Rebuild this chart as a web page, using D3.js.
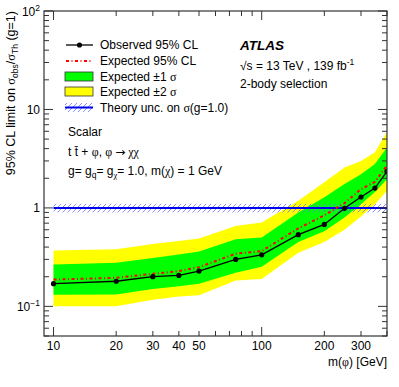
<!DOCTYPE html>
<meta charset="utf-8">
<script src="https://d3js.org/d3.v7.min.js"></script>
<style>
  body { margin: 0; padding: 0; background: white; }
  svg text { font-family: "Liberation Sans", Arial, sans-serif; fill: #000; }
  svg tspan.gr { font-family: "Liberation Serif", "DejaVu Serif", serif; }
  svg tspan.ar { font-family: "DejaVu Sans", sans-serif; }
</style>
<body>
<svg id="chart" width="399" height="387"></svg>
<script>
// masses [GeV] and limits
var mass     = [10, 20, 30, 40, 50, 75, 100, 150, 200, 250, 300, 350, 400];
var observed = [0.17, 0.18, 0.2, 0.206, 0.228, 0.30, 0.334, 0.535, 0.68, 0.99, 1.29, 1.59, 2.35];
var expected = [0.187, 0.195, 0.214, 0.228, 0.25, 0.343, 0.364, 0.62, 0.84, 1.12, 1.55, 1.84, 2.7];
var exp1Up   = [0.266, 0.277, 0.31, 0.337, 0.36, 0.48, 0.50, 0.9, 1.28, 1.75, 2.2, 2.8, 4.1];
var exp1Dn   = [0.131, 0.132, 0.15, 0.16, 0.17, 0.22, 0.252, 0.45, 0.58, 0.8, 1.09, 1.45, 1.96];
var exp2Up   = [0.37, 0.38, 0.43, 0.46, 0.49, 0.655, 0.71, 1.18, 1.82, 2.58, 3.0, 3.67, 5.9];
var exp2Dn   = [0.1, 0.1, 0.117, 0.126, 0.13, 0.183, 0.19, 0.35, 0.45, 0.6, 0.82, 1.09, 1.49];
var theory   = [0.9, 1.0, 1.1];   // low, central, high

var xLabels = [10, 20, 30, 40, 50, 100, 200, 300];
var yMajor  = [0.1, 1, 10, 100];

var svg = d3.select("#chart");
var fL = 44, fR = 387, fT = 11, fB = 336;   // frame

var x = d3.scaleLog().domain([9, 400]).range([fL, fR]);
var y = d3.scaleLog().domain([0.05, 100]).range([fB, fT]);

var defs = svg.append("defs");
defs.append("clipPath").attr("id", "frame")
  .append("rect").attr("x", fL).attr("y", fT)
  .attr("width", fR - fL).attr("height", fB - fT);

var hatch = defs.append("pattern").attr("id", "hatch")
  .attr("patternUnits", "userSpaceOnUse")
  .attr("width", 5).attr("height", 5);
hatch.append("path").attr("d", "M-1,1 L1,-1 M0,5 L5,0 M4,6 L6,4")
  .attr("stroke", "#6a78ff").attr("stroke-width", 0.8);

var pts = mass.map(function (m, i) { return i; });

var plot = svg.append("g").attr("clip-path", "url(#frame)");

function band(lo, hi, color) {
  plot.append("path")
    .datum(pts)
    .attr("fill", color)
    .attr("d", d3.area()
      .x(function (i) { return x(mass[i]); })
      .y0(function (i) { return y(lo[i]); })
      .y1(function (i) { return y(hi[i]); }));
}
band(exp2Dn, exp2Up, "#ffff00");
band(exp1Dn, exp1Up, "#00ff00");

// theory band
plot.append("rect")
  .attr("x", x(10)).attr("width", x(400) - x(10))
  .attr("y", y(theory[2])).attr("height", y(theory[0]) - y(theory[2]))
  .attr("fill", "url(#hatch)");
plot.append("line")
  .attr("x1", x(10)).attr("x2", x(400))
  .attr("y1", y(theory[1])).attr("y2", y(theory[1]))
  .attr("stroke", "#0000ee").attr("stroke-width", 2);

var line = function (vals) {
  return d3.line().x(function (i) { return x(mass[i]); })
    .y(function (i) { return y(vals[i]); })(pts);
};

plot.append("path").attr("d", line(expected))
  .attr("fill", "none").attr("stroke", "#ff0000")
  .attr("stroke-width", 2).attr("stroke-dasharray", "3,2.5,1,2.5");

plot.append("path").attr("d", line(observed))
  .attr("fill", "none").attr("stroke", "#000").attr("stroke-width", 1.3);

plot.selectAll("circle.obs").data(pts).enter().append("circle")
  .attr("class", "obs")
  .attr("cx", function (i) { return x(mass[i]); })
  .attr("cy", function (i) { return y(observed[i]); })
  .attr("r", 2.6).attr("fill", "#000");

// frame and ticks
var ax = svg.append("g").attr("stroke", "#333").attr("fill", "none");
ax.append("rect").attr("x", fL).attr("y", fT)
  .attr("width", fR - fL).attr("height", fB - fT)
  .attr("stroke-width", 1.2);

var xTicks = [];
for (var m = 10; m <= 400; m += (m < 100 ? 10 : 100)) xTicks.push(m);
xTicks.forEach(function (t) {
  var len = (t === 10 || t === 100) ? 9 : 5;
  ax.append("line").attr("x1", x(t)).attr("x2", x(t))
    .attr("y1", fB).attr("y2", fB - len);
  ax.append("line").attr("x1", x(t)).attr("x2", x(t))
    .attr("y1", fT).attr("y2", fT + len);
});

var yTicks = [];
[0.01, 0.1, 1, 10].forEach(function (d) {
  for (var k = 1; k < 10; k++) {
    var v = d * k;
    if (v >= 0.05 && v <= 100) yTicks.push(v);
  }
});
yTicks.push(100);
yTicks.forEach(function (t) {
  var major = yMajor.some(function (v) { return Math.abs(v - t) < 1e-9; });
  var len = major ? 9 : 5;
  ax.append("line").attr("x1", fL).attr("x2", fL + len)
    .attr("y1", y(t)).attr("y2", y(t));
  ax.append("line").attr("x1", fR).attr("x2", fR - len)
    .attr("y1", y(t)).attr("y2", y(t));
});

// tick labels
svg.selectAll("text.xl").data(xLabels).enter().append("text")
  .attr("class", "xl")
  .attr("x", function (d) { return x(d); })
  .attr("y", 350)
  .attr("text-anchor", "middle")
  .attr("font-size", 12)
  .text(function (d) { return d; });

var yLab = [
  { v: 0.1, base: "10", sup: "\u22121" },
  { v: 1, base: "1", sup: "" },
  { v: 10, base: "10", sup: "" },
  { v: 100, base: "10", sup: "2" }
];
yLab.forEach(function (d) {
  var t = svg.append("text")
    .attr("x", 40).attr("y", y(d.v) + 4.5)
    .attr("text-anchor", "end").attr("font-size", 12);
  t.append("tspan").text(d.base);
  if (d.sup) t.append("tspan").attr("font-size", 8.5).attr("dy", -5).text(d.sup);
});

// helper: text built from [string, kind] parts; kind: "" normal, "g" greek, "a" arrow, "sub", "subg", "sup"
function rich(sel, parts) {
  var shift = 0;
  parts.forEach(function (p) {
    var ts = sel.append("tspan").text(p[0]);
    var k = p[1] || "";
    var want = k.indexOf("sub") === 0 ? 3 : (k === "sup" ? -5 : 0);
    if (want !== shift) { ts.attr("dy", want - shift); shift = want; }
    if (k === "sub" || k === "subg" || k === "sup") ts.attr("font-size", 8.5);
    if (k === "g" || k === "subg") ts.attr("class", "gr");
    if (k === "a") ts.attr("class", "ar");
  });
}

// axis titles
rich(svg.append("text")
  .attr("x", fR).attr("y", 366)
  .attr("text-anchor", "end").attr("font-size", 12),
  [["m("], ["\u03c6", "g"], [") [GeV]"]]);

rich(svg.append("text")
  .attr("transform", "translate(15," + fT + ") rotate(-90)")
  .attr("text-anchor", "end").attr("font-size", 12.5),
  [["95% CL limit on "], ["\u03c3", "g"], ["obs", "sub"], ["/"], ["\u03c3", "g"],
   ["Th", "sub"], [" (g=1)"]]);

// ATLAS label
svg.append("text").attr("x", 240).attr("y", 50)
  .attr("font-size", 13.5).attr("font-weight", "bold").attr("font-style", "italic")
  .text("ATLAS");
rich(svg.append("text").attr("x", 240).attr("y", 70).attr("font-size", 12),
  [["\u221as = 13 TeV , 139 fb"], ["-1", "sup"]]);
svg.append("text").attr("x", 240).attr("y", 88).attr("font-size", 12)
  .text("2-body selection");

// legend
var lx0 = 66, lx1 = 93, tx = 100;
var rows = [45, 61, 76.5, 91.5, 107.5];
var legendText = [
  [["Observed 95% CL"]],
  [["Expected 95% CL"]],
  [["Expected \u00b11 "], ["\u03c3", "g"]],
  [["Expected \u00b12 "], ["\u03c3", "g"]],
  [["Theory unc. on "], ["\u03c3", "g"], ["(g=1.0)"]]
];
legendText.forEach(function (s, i) {
  rich(svg.append("text").attr("x", tx).attr("y", rows[i] + 4.3).attr("font-size", 12), s);
});
svg.append("line").attr("x1", lx0).attr("x2", lx1).attr("y1", rows[0]).attr("y2", rows[0])
  .attr("stroke", "#000").attr("stroke-width", 1.3);
svg.append("circle").attr("cx", (lx0 + lx1) / 2).attr("cy", rows[0]).attr("r", 2.6);
svg.append("line").attr("x1", lx0).attr("x2", lx1).attr("y1", rows[1]).attr("y2", rows[1])
  .attr("stroke", "#ff0000").attr("stroke-width", 2).attr("stroke-dasharray", "3,2.5,1,2.5");
svg.append("rect").attr("x", lx0 - 1).attr("y", rows[2] - 4.5).attr("width", 28).attr("height", 9)
  .attr("fill", "#00ff00").attr("stroke", "#333").attr("stroke-width", 0.8);
svg.append("rect").attr("x", lx0 - 1).attr("y", rows[3] - 4.5).attr("width", 28).attr("height", 9)
  .attr("fill", "#ffff00").attr("stroke", "#333").attr("stroke-width", 0.8);
svg.append("rect").attr("x", lx0 - 1).attr("y", rows[4] - 4.5).attr("width", 28).attr("height", 9)
  .attr("fill", "url(#hatch)");
svg.append("line").attr("x1", lx0 - 1).attr("x2", lx1).attr("y1", rows[4]).attr("y2", rows[4])
  .attr("stroke", "#0000ee").attr("stroke-width", 2);

// model text
svg.append("text").attr("x", 68).attr("y", 136).attr("font-size", 12).text("Scalar");
rich(svg.append("text").attr("x", 68).attr("y", 156).attr("font-size", 12),
  [["t t\u0304 + "], ["\u03c6", "g"], [", "], ["\u03c6 ", "g"], ["\u2192", "a"], [" \u03c7\u03c7", "g"]]);
rich(svg.append("text").attr("x", 68).attr("y", 175).attr("font-size", 12),
  [["g= g"], ["q", "sub"], ["= g"], ["\u03c7", "subg"], ["= 1.0, m("], ["\u03c7", "g"],
   [") = 1 GeV"]]);
</script>
</body>
